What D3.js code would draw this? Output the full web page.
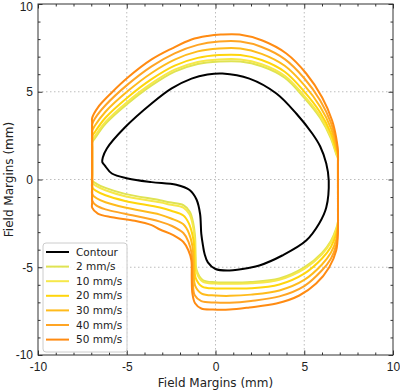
<!DOCTYPE html>
<html>
<head>
<meta charset="utf-8">
<script src="https://cdnjs.cloudflare.com/ajax/libs/d3/7.8.5/d3.min.js"></script>
<style>
  body { margin: 0; background: #fff; }
  svg { display: block; font-family: "DejaVu Sans", sans-serif; }
</style>
</head>
<body>
<div id="chart"></div>
<script>
// field contour (mm) and margin curves per speed
const contour = [
  [-6.35, 1.25], [-6.12, 1.77], [-5.11, 2.96], [-3.6, 4.33], [-2.47, 5.19], [-1.35, 5.75],
  [-0.45, 5.98], [0.39, 6.04], [1.91, 5.75], [3.43, 4.9], [4.55, 3.76], [5.45, 2.62],
  [5.9, 1.88], [6.24, 0.91], [6.38, -0.06], [6.24, -1.6], [5.84, -2.51], [5.11, -3.48],
  [3.76, -4.33], [2.47, -4.9], [1.91, -5.03], [0.8, -5.18], [0.0, -5.1], [-0.43, -4.72],
  [-0.62, -4.22], [-0.7, -3.8], [-0.8, -3.1], [-0.87, -1.95], [-1.07, -1.14], [-1.46, -0.6],
  [-2.21, -0.3], [-3.6, -0.15], [-4.94, 0.06], [-5.84, 0.34], [-6.24, 0.8], [-6.38, 1.0]
];

const speed2 = [
  [-6.95, -0.06], [-6.95, 0.3], [-6.95, 1.8], [-6.95, 2.11], [-6.8, 2.34], [-6.2, 3.17],
  [-4.94, 4.33], [-3.6, 5.36], [-2.3, 6.15], [-1.0, 6.58], [0.2, 6.72], [1.4, 6.72],
  [2.6, 6.45], [3.9, 5.8], [5.0, 4.65], [5.9, 3.5], [6.5, 2.35], [6.8, 1.45], [6.9, 1.2],
  [6.9, 0.9], [6.9, -2.1], [6.9, -2.4], [6.8, -2.8], [6.5, -3.5], [6.0, -4.18], [5.0, -5.01],
  [3.6, -5.64], [2.0, -5.84], [0.8, -5.87], [0, -5.85], [-0.7, -5.74], [-1.06, -5.17],
  [-1.12, -4.4], [-1.15, -3.27], [-1.25, -2.51], [-1.44, -1.85], [-1.81, -1.46], [-2.6, -1.3],
  [-3.13, -1.18], [-5.1, -0.82], [-6.2, -0.48], [-6.7, -0.25]
];

const speed10 = [
  [-6.95, -0.18], [-6.95, 0.2], [-6.95, 1.9], [-6.95, 2.22], [-6.8, 2.46], [-6.2, 3.28],
  [-4.94, 4.45], [-3.6, 5.48], [-2.3, 6.26], [-1.0, 6.7], [0.2, 6.84], [1.4, 6.84],
  [2.6, 6.57], [3.9, 5.91], [5.0, 4.77], [5.9, 3.61], [6.5, 2.45], [6.8, 1.52], [6.9, 1.25],
  [6.9, 0.95], [6.9, -2.15], [6.9, -2.45], [6.8, -2.88], [6.5, -3.58], [6.0, -4.26], [5.0, -5.09],
  [3.6, -5.71], [2.0, -5.91], [0.8, -5.94], [0, -5.93], [-0.72, -5.82], [-1.08, -5.25],
  [-1.14, -4.5], [-1.17, -3.4], [-1.27, -2.65], [-1.46, -2.0], [-1.81, -1.6], [-2.6, -1.42],
  [-3.13, -1.3], [-5.1, -0.95], [-6.2, -0.61], [-6.7, -0.38]
];

const speed20 = [
  [-6.95, -0.45], [-6.95, -0.1], [-6.95, 2.1], [-6.95, 2.45], [-6.8, 2.7], [-6.2, 3.52],
  [-4.94, 4.69], [-3.6, 5.72], [-2.3, 6.49], [-1.0, 6.93], [0.2, 7.09], [1.4, 7.09],
  [2.6, 6.81], [3.9, 6.14], [5.0, 5.01], [5.9, 3.82], [6.5, 2.64], [6.8, 1.68], [6.9, 1.35],
  [6.9, 1.05], [6.9, -2.25], [6.9, -2.55], [6.8, -3.1], [6.5, -3.84], [6.0, -4.5], [5.0, -5.36],
  [3.6, -5.98], [2.0, -6.2], [0.8, -6.21], [0, -6.21], [-0.75, -6.1], [-1.12, -5.6],
  [-1.18, -4.9], [-1.2, -3.8], [-1.3, -3.15], [-1.5, -2.5], [-1.81, -2.05], [-2.5, -1.78],
  [-3.13, -1.6], [-5.1, -1.22], [-6.2, -0.9], [-6.7, -0.66]
];

const speed30 = [
  [-6.95, -0.83], [-6.95, -0.5], [-6.95, 2.45], [-6.95, 2.78], [-6.8, 3.06], [-6.2, 3.86],
  [-4.94, 5.04], [-3.6, 6.07], [-2.3, 6.83], [-1.0, 7.3], [0.2, 7.46], [1.4, 7.46],
  [2.6, 7.16], [3.9, 6.48], [5.0, 5.38], [5.9, 4.15], [6.5, 2.93], [6.8, 1.9], [6.9, 1.45],
  [6.9, 1.15], [6.9, -2.35], [6.9, -2.65], [6.8, -3.42], [6.5, -4.18], [6.0, -4.84], [5.0, -5.72],
  [3.6, -6.32], [2.0, -6.56], [0.8, -6.63], [0, -6.61], [-0.78, -6.5], [-1.15, -6.05],
  [-1.22, -5.4], [-1.24, -4.6], [-1.3, -3.8], [-1.5, -3.05], [-1.81, -2.55], [-2.5, -2.22],
  [-3.13, -2.0], [-5.1, -1.6], [-6.2, -1.3], [-6.7, -1.07]
];

const speed40 = [
  [-6.95, -1.2], [-6.95, -0.9], [-6.95, 2.8], [-6.95, 3.14], [-6.8, 3.46], [-6.2, 4.23],
  [-4.94, 5.42], [-3.6, 6.45], [-2.3, 7.19], [-1.0, 7.67], [0.2, 7.86], [1.4, 7.86],
  [2.6, 7.55], [3.9, 6.86], [5.0, 5.77], [5.9, 4.5], [6.5, 3.24], [6.8, 2.15], [6.9, 1.55],
  [6.9, 1.25], [6.9, -2.48], [6.9, -2.78], [6.8, -3.73], [6.5, -4.51], [6.0, -5.17], [5.0, -6.07],
  [3.6, -6.66], [2.0, -6.92], [0.8, -7.02], [0, -7.01], [-0.8, -6.93], [-1.17, -6.6],
  [-1.27, -6.0], [-1.29, -5.1], [-1.34, -4.25], [-1.52, -3.55], [-1.81, -3.05], [-2.45, -2.65],
  [-3.13, -2.4], [-5.1, -1.95], [-6.2, -1.7], [-6.7, -1.49]
];

const speed50 = [
  [-6.95, -1.6], [-6.95, -1.3], [-6.95, 3.2], [-6.95, 3.5], [-6.63, 4.1], [-5.84, 4.96],
  [-4.94, 5.81], [-3.6, 6.84], [-2.47, 7.46], [-1.35, 7.98], [-0.45, 8.18], [0.3, 8.26],
  [1.35, 8.26], [2.64, 7.92], [3.99, 7.18], [5.11, 6.04], [6.01, 4.67], [6.57, 3.36],
  [6.8, 2.39], [6.9, 1.6], [6.9, 1.3], [6.9, -2.6], [6.9, -2.9], [6.8, -4.05], [6.4, -5.01],
  [5.67, -5.93], [4.72, -6.61], [3.43, -7.07], [1.91, -7.29], [0.79, -7.41], [-0.14, -7.41],
  [-0.8, -7.35], [-1.15, -7.05], [-1.3, -6.5], [-1.34, -5.6], [-1.36, -4.6], [-1.53, -4.03],
  [-1.81, -3.56], [-2.38, -3.17], [-3.13, -2.85], [-3.6, -2.6], [-4.55, -2.35], [-5.84, -2.15],
  [-6.63, -1.94]
];

const seriesLabels = ["Contour", "2 mm/s", "10 mm/s", "20 mm/s", "30 mm/s", "40 mm/s", "50 mm/s"];
const seriesColors = ["#000000", "#dfe352", "#f6e84a", "#ffd50c", "#ffbb1c", "#ffa524", "#ff8b12"];
const majorTicks = [-10, -5, 0, 5, 10];
const gridTicks = [-5, 0, 5];

const allSeries = [contour, speed2, speed10, speed20, speed30, speed40, speed50];

const width = 400, height = 390;
const margin = { top: 4, right: 7, bottom: 35, left: 38 };

const svg = d3.select("#chart").append("svg")
  .attr("width", width)
  .attr("height", height);

const x = d3.scaleLinear().domain([-10, 10]).range([margin.left, width - margin.right]);
const y = d3.scaleLinear().domain([-10, 10]).range([height - margin.bottom, margin.top]);

const minorTicks = d3.range(-10, 11).filter(v => v % 5 !== 0);

// grid (dotted)
const grid = svg.append("g")
  .attr("stroke", "#b5b5b5")
  .attr("stroke-width", 0.9)
  .attr("stroke-dasharray", "1.5,2.5");
grid.selectAll(".gx").data(gridTicks).join("line")
  .attr("x1", d => x(d)).attr("x2", d => x(d))
  .attr("y1", y(10)).attr("y2", y(-10));
grid.selectAll(".gy").data(gridTicks).join("line")
  .attr("y1", d => y(d)).attr("y2", d => y(d))
  .attr("x1", x(-10)).attr("x2", x(10));

// curves
const line = d3.line()
  .x(d => x(d[0]))
  .y(d => y(d[1]))
  .curve(d3.curveCatmullRomClosed.alpha(0.5));

svg.append("g").selectAll("path")
  .data(allSeries)
  .join("path")
  .attr("d", d => line(d))
  .attr("fill", "none")
  .attr("stroke", (d, i) => seriesColors[i])
  .attr("stroke-width", 2)
  .attr("stroke-linejoin", "round");

// axes with inward ticks on all sides
function styleAxis(g) {
  g.select(".domain").remove();
  g.selectAll(".tick line").attr("stroke", "#333");
  g.selectAll("text").attr("fill", "#222").style("font-size", "12px");
}
const fmt = d => String(d);

svg.append("g").attr("transform", `translate(0,${y(-10)})`)
  .call(d3.axisBottom(x).tickValues(majorTicks).tickSize(-4.5).tickPadding(7).tickFormat(fmt))
  .call(styleAxis);
svg.append("g").attr("transform", `translate(0,${y(-10)})`)
  .call(d3.axisBottom(x).tickValues(minorTicks).tickSize(-2.5).tickFormat(""))
  .call(styleAxis);
svg.append("g").attr("transform", `translate(0,${y(10)})`)
  .call(d3.axisTop(x).tickValues(majorTicks).tickSize(-4.5).tickFormat(""))
  .call(styleAxis);
svg.append("g").attr("transform", `translate(0,${y(10)})`)
  .call(d3.axisTop(x).tickValues(minorTicks).tickSize(-2.5).tickFormat(""))
  .call(styleAxis);

const yAxis = svg.append("g").attr("transform", `translate(${x(-10)},0)`)
  .call(d3.axisLeft(y).tickValues(majorTicks).tickSize(-4.5).tickPadding(5).tickFormat(fmt))
  .call(styleAxis);
// keep the top label inside the page
yAxis.selectAll(".tick text").filter(d => d === 10).attr("dy", "0.55em");
svg.append("g").attr("transform", `translate(${x(-10)},0)`)
  .call(d3.axisLeft(y).tickValues(minorTicks).tickSize(-2.5).tickFormat(""))
  .call(styleAxis);
svg.append("g").attr("transform", `translate(${x(10)},0)`)
  .call(d3.axisRight(y).tickValues(majorTicks).tickSize(-4.5).tickFormat(""))
  .call(styleAxis);
svg.append("g").attr("transform", `translate(${x(10)},0)`)
  .call(d3.axisRight(y).tickValues(minorTicks).tickSize(-2.5).tickFormat(""))
  .call(styleAxis);

// frame
svg.append("rect")
  .attr("x", x(-10)).attr("y", y(10))
  .attr("width", x(10) - x(-10)).attr("height", y(-10) - y(10))
  .attr("fill", "none").attr("stroke", "#333").attr("stroke-width", 1);

// axis labels
svg.append("text")
  .attr("x", (x(-10) + x(10)) / 2)
  .attr("y", 387)
  .attr("text-anchor", "middle")
  .style("font-size", "12px")
  .attr("fill", "#222")
  .text("Field Margins (mm)");

svg.append("text")
  .attr("transform", `translate(13,${(y(10) + y(-10)) / 2}) rotate(-90)`)
  .attr("text-anchor", "middle")
  .style("font-size", "12px")
  .attr("fill", "#222")
  .text("Field Margins (mm)");

// legend
const legend = svg.append("g").attr("transform", "translate(43,243)");
legend.append("rect")
  .attr("width", 84).attr("height", 109)
  .attr("rx", 3)
  .attr("fill", "#fff").attr("fill-opacity", 0.85)
  .attr("stroke", "#ccc").attr("stroke-width", 1);

const rows = legend.selectAll(".row")
  .data(seriesLabels)
  .join("g")
  .attr("transform", (d, i) => `translate(0,${9 + i * 14.6})`);
rows.append("line")
  .attr("x1", 3).attr("x2", 26)
  .attr("stroke", (d, i) => seriesColors[i])
  .attr("stroke-width", 2);
rows.append("text")
  .attr("x", 33)
  .attr("dy", "0.35em")
  .style("font-size", "10.5px")
  .attr("fill", "#222")
  .text(d => d);
</script>
</body>
</html>
